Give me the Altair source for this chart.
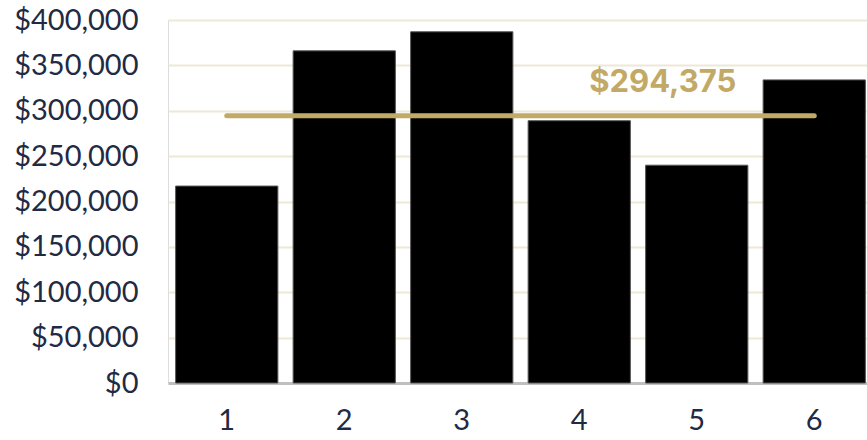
import altair as alt
import pandas as pd

categories = ["1", "2", "3", "4", "5", "6"]
values = [217000, 366000, 387000, 289000, 240000, 334000]
mean_value = 294375
mean_label = "$294,375"

bars_df = pd.DataFrame({"cat": categories, "value": values})
line_df = pd.DataFrame({"start": [categories[0]], "end": [categories[-1]], "mean": [mean_value]})
label_df = pd.DataFrame({"cat": [categories[4]], "mean": [mean_value], "label": [mean_label]})

x_enc = alt.X("cat:N", sort=categories,
              scale=alt.Scale(domain=categories, paddingInner=0.13, paddingOuter=0.065, range=[0, 705]),
              axis=alt.Axis(title=None, labelAngle=0, labelFont="Lato", labelFontSize=29,
                            labelColor="#1F2A44", labelPadding=23, ticks=False,
                            domainColor="#BFBFBF", domainWidth=3, grid=False))

y_enc = alt.Y("value:Q",
              scale=alt.Scale(domain=[0, 400000], nice=False),
              axis=alt.Axis(title=None, values=[0, 50000, 100000, 150000, 200000, 250000, 300000, 350000, 400000],
                            format="$,.0f", labelFont="Lato", labelFontSize=29, labelColor="#1F2A44",
                            labelPadding=30, ticks=False, domain=False, gridColor="#EEE8D5", gridWidth=2))

bars = alt.Chart(bars_df).mark_bar(color="black", stroke="#555555", strokeWidth=1).encode(x=x_enc, y=y_enc)

rule = alt.Chart(line_df).mark_rule(color="#C2AA66", strokeWidth=5, strokeCap="round").encode(
    x=alt.X("start:N", sort=categories), x2="end:N", y=alt.Y("mean:Q"))

text = alt.Chart(label_df).mark_text(font="Inter", fontWeight="bold", fontSize=31, color="#C2AA66",
                                     dx=-34, dy=-33).encode(
    x=alt.X("cat:N", sort=categories), y=alt.Y("mean:Q"), text="label:N")

chart = alt.layer(bars, rule, text).properties(
    width=699, height=363, autosize="none",
    padding={"left": 168, "top": 20, "right": 0, "bottom": 57}
).configure_view(stroke=None).configure(background="white")

chart.save("out.html", embed_options={"renderer": "svg", "actions": False})
